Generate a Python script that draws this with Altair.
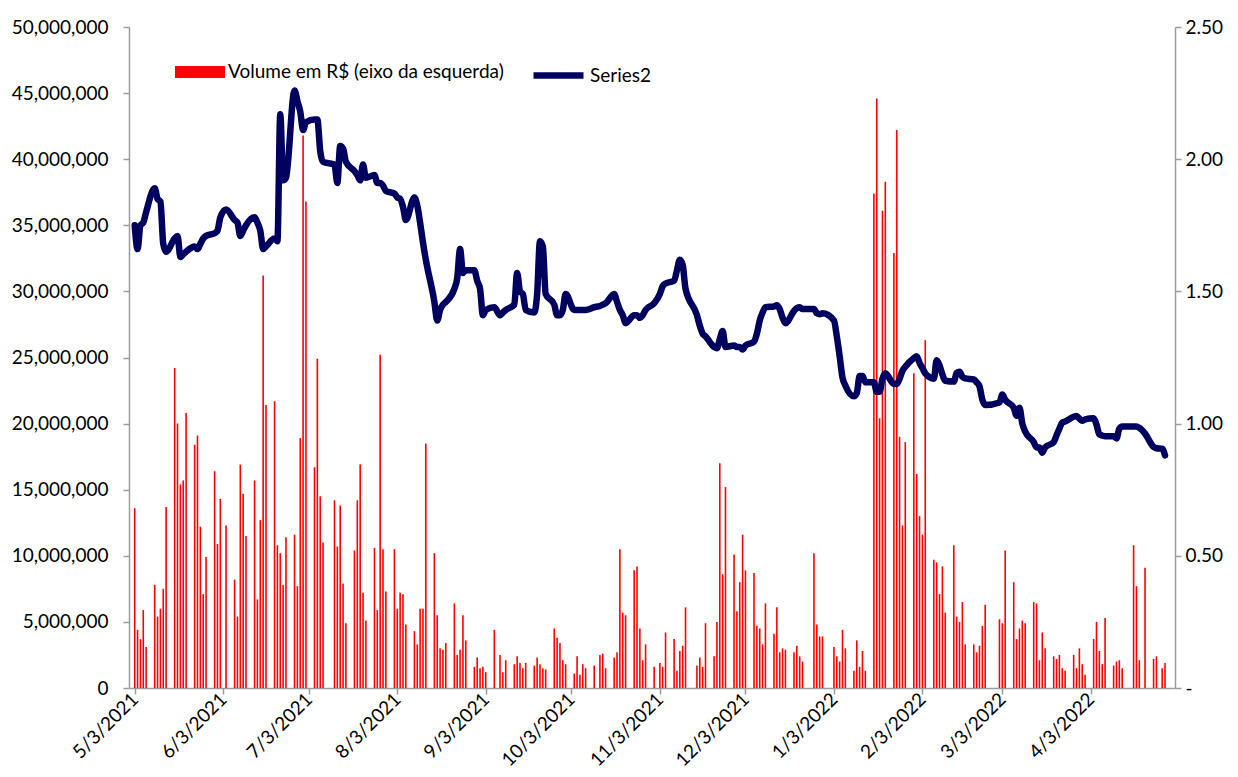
import altair as alt
import pandas as pd

# ---- data (volume in millions of R$, Series2 on right axis) ----
may21_days = [3,4,5,6,7,10,11,12,13,14,17,18,19,20,21,24,25,26,27,28,31]
may21_vol = [13.6,4.4,3.7,5.9,3.1,7.8,5.4,6.0,7.5,13.7,24.2,20.0,15.4,15.7,20.8,18.4,19.1,12.2,7.1,9.9,16.4]
may21_s2 = [1.75,1.66,1.75,1.76,1.80,1.89,1.85,1.84,1.68,1.65,1.70,1.71,1.63,1.64,1.65,1.67,1.66,1.68,1.70,1.71,1.72]

jun21_days = [1,2,4,7,8,9,10,11,14,15,16,17,18,21,22,23,24,25,28,29,30]
jun21_vol = [10.9,14.3,12.3,8.2,5.4,16.9,14.7,11.5,15.7,6.7,12.7,31.2,21.4,21.7,10.8,10.2,7.8,11.4,11.6,7.7,18.9]
jun21_s2 = [1.73,1.78,1.81,1.77,1.76,1.71,1.73,1.75,1.78,1.76,1.73,1.66,1.67,1.70,1.69,2.17,1.92,1.93,2.26,2.22,2.18]

jul21_days = [1,2,5,6,7,8,12,13,14,15,16,19,20,21,22,23,26,27,28,29,30]
jul21_vol = [41.8,36.8,16.7,24.9,14.5,11.0,14.2,10.7,13.8,7.9,4.9,10.4,14.2,16.9,7.2,5.1,10.6,5.9,25.2,10.5,7.3]
jul21_s2 = [2.11,2.14,2.15,2.15,2.03,1.99,1.98,1.91,2.05,2.04,1.99,1.955,1.94,1.92,1.98,1.93,1.94,1.91,1.91,1.90,1.88]

aug21_days = [2,3,4,5,6,9,10,11,12,13,16,17,18,19,20,23,24,25,26,27,30,31]
aug21_vol = [10.5,6.0,7.2,7.1,4.8,4.3,3.3,6.0,6.0,18.5,10.2,5.5,3.0,2.9,3.4,6.4,2.5,2.9,5.5,3.6,1.6,2.3]
aug21_s2 = [1.87,1.855,1.85,1.82,1.77,1.855,1.825,1.76,1.685,1.62,1.46,1.39,1.43,1.45,1.46,1.51,1.55,1.66,1.57,1.58,1.58,1.54]

sep21_days = [1,2,3,6,8,9,10,13,14,15,16,17,20,21,22,23,24,27,28,29,30]
sep21_vol = [1.5,1.6,1.2,4.4,2.5,1.2,2.1,1.8,2.4,1.9,1.5,1.9,1.7,2.3,1.8,1.5,1.4,4.5,3.8,3.4,2.1]
sep21_s2 = [1.51,1.41,1.43,1.44,1.41,1.42,1.43,1.45,1.57,1.50,1.49,1.43,1.42,1.49,1.69,1.67,1.49,1.45,1.41,1.41,1.43]

oct21_days = [1,4,5,6,7,8,11,13,14,15,18,19,20,21,22,25,26,27,28,29]
oct21_vol = [1.8,1.1,2.4,1.0,1.8,1.5,1.7,2.5,2.6,1.5,2.3,2.7,10.5,5.7,5.5,8.9,9.2,4.5,2.1,3.3]
oct21_s2 = [1.49,1.43,1.43,1.43,1.43,1.43,1.44,1.445,1.45,1.455,1.49,1.46,1.43,1.41,1.38,1.41,1.41,1.40,1.41,1.43]

nov21_days = [1,3,4,5,8,9,10,11,12,16,17,18,19,22,23,24,25,26,29,30]
nov21_vol = [1.6,1.9,1.6,4.2,3.7,1.3,2.8,3.2,6.1,1.7,2.3,1.6,4.9,2.4,5.0,17.0,8.6,15.2,10.1,5.8]
nov21_s2 = [1.455,1.49,1.52,1.53,1.54,1.58,1.62,1.60,1.51,1.41,1.37,1.34,1.33,1.29,1.285,1.32,1.35,1.29,1.295,1.29]

dec21_days = [1,2,3,6,7,8,9,10,13,14,15,16,17,20,21,22,23,27,28,29,30]
dec21_vol = [8.0,11.6,8.9,8.7,4.7,4.5,3.3,6.4,4.1,6.1,2.7,3.0,2.9,2.7,3.2,2.4,2.0,10.2,4.8,3.9,3.9]
dec21_s2 = [1.29,1.28,1.295,1.31,1.34,1.39,1.42,1.44,1.443,1.448,1.433,1.40,1.38,1.426,1.437,1.44,1.433,1.433,1.418,1.414,1.417]

jan22_days = [3,4,5,6,7,10,11,12,13,14,17,18,19,20,21,24,25,26,27,28,31]
jan22_vol = [3.1,2.4,2.0,4.4,3.0,1.3,3.6,1.6,2.8,1.3,37.4,44.6,20.4,36.1,38.3,32.9,42.2,19.0,12.3,18.6,23.8]
jan22_s2 = [1.39,1.33,1.255,1.174,1.144,1.103,1.115,1.18,1.18,1.156,1.156,1.12,1.12,1.17,1.19,1.15,1.15,1.17,1.20,1.215,1.248]

feb22_days = [1,2,3,4,7,8,9,10,11,14,15,16,17,18,21,22,23,24,25]
feb22_vol = [16.2,13.0,11.6,26.3,9.7,9.5,7.1,9.2,5.7,10.8,5.4,5.0,6.5,3.3,3.3,2.7,3.2,4.7,6.3]
feb22_s2 = [1.255,1.23,1.21,1.19,1.17,1.24,1.22,1.186,1.162,1.159,1.192,1.196,1.177,1.171,1.167,1.156,1.141,1.09,1.07]

mar22_days = [2,3,4,7,8,9,10,11,14,15,16,17,18,21,22,23,24,25,28,29,30,31]
mar22_vol = [5.2,4.9,10.4,8.0,3.7,4.5,5.1,4.9,6.5,6.4,2.1,4.2,3.0,2.4,2.2,2.5,1.5,1.3,2.5,1.5,3.0,1.8]
mar22_s2 = [1.08,1.11,1.09,1.06,1.03,1.06,1.00,0.97,0.93,0.91,0.91,0.89,0.91,0.93,0.956,0.981,1.004,1.008,1.026,1.029,1.019,1.011]

apr22_days = [1,4,5,6,7,8,11,12,13,14,18,19,20,22,25,26,28,29]
apr22_vol = [1.0,3.7,5.0,2.8,1.8,5.3,1.7,2.0,2.1,1.5,10.8,7.7,2.1,9.1,2.2,2.4,1.5,1.9]
apr22_s2 = [1.016,1.02,0.996,0.959,0.955,0.952,0.952,0.944,0.981,0.989,0.989,0.989,0.984,0.962,0.912,0.907,0.905,0.88]

months = [
    (2021, 5, may21_days, may21_vol, may21_s2),
    (2021, 6, jun21_days, jun21_vol, jun21_s2),
    (2021, 7, jul21_days, jul21_vol, jul21_s2),
    (2021, 8, aug21_days, aug21_vol, aug21_s2),
    (2021, 9, sep21_days, sep21_vol, sep21_s2),
    (2021, 10, oct21_days, oct21_vol, oct21_s2),
    (2021, 11, nov21_days, nov21_vol, nov21_s2),
    (2021, 12, dec21_days, dec21_vol, dec21_s2),
    (2022, 1, jan22_days, jan22_vol, jan22_s2),
    (2022, 2, feb22_days, feb22_vol, feb22_s2),
    (2022, 3, mar22_days, mar22_vol, mar22_s2),
    (2022, 4, apr22_days, apr22_vol, apr22_s2),
]

tick_months = [(2021, m) for m in range(5, 13)] + [(2022, m) for m in range(1, 5)]

bar_name = "Volume em R$ (eixo da esquerda)"
line_name = "Series2"

rows = []
for y, m, days, vols, s2 in months:
    for d, v, s in zip(days, vols, s2):
        rows.append({"date": f"{y}-{m:02d}-{d:02d}T00:00:00", "vol": v * 1e6, "s2": s,
                     "bar_series": bar_name, "line_series": line_name})
df = pd.DataFrame(rows)

FONT = "Lato"
AXIS_GRAY = "#9C9C9C"
NAVY = "#00005F"

x_scale = alt.Scale(domain=[alt.DateTime(year=2021, month=5, date=2, hours=18),
                            alt.DateTime(year=2022, month=4, date=30, hours=18)])
x_axis = alt.Axis(
    values=[alt.DateTime(year=y, month=m, date=3) for y, m in tick_months],
    labelExpr="timeFormat(datum.value, '%-m/%-d/%Y')",
    labelAngle=-45, labelAlign="right", labelBaseline="middle",
    labelPadding=2, tickSize=6, title=None, grid=False,
)

bars = alt.Chart(df).mark_bar(size=1.6, opacity=1).encode(
    x=alt.X("date:T", scale=x_scale, axis=x_axis),
    y=alt.Y("vol:Q", scale=alt.Scale(domain=[0, 50_000_000]),
            axis=alt.Axis(values=list(range(0, 50_000_001, 5_000_000)), format=",.0f",
                          title=None, grid=False, tickSize=6, labelPadding=15)),
    color=alt.Color("bar_series:N", scale=alt.Scale(domain=[bar_name], range=["#FF0000"]),
                    legend=alt.Legend(title=None, orient="none", legendX=61, legendY=35,
                                      symbolType="M-2.5,-0.6L2.5,-0.6L2.5,0.6L-2.5,0.6Z",
                                      symbolSize=400, symbolStrokeWidth=0,
                                      labelOffset=18, labelLimit=500, padding=0)),
)

line = alt.Chart(df).mark_line(strokeWidth=6.5, interpolate="monotone",
                               strokeCap="round", strokeJoin="round").encode(
    x=alt.X("date:T", scale=x_scale, axis=x_axis),
    y=alt.Y("s2:Q", scale=alt.Scale(domain=[0, 2.5]),
            axis=alt.Axis(orient="right", values=[0, 0.5, 1.0, 1.5, 2.0, 2.5],
                          labelExpr="datum.value == 0 ? '-' : format(datum.value, '.2f')",
                          title=None, grid=False, tickSize=6, labelPadding=4)),
    stroke=alt.Stroke("line_series:N", scale=alt.Scale(domain=[line_name], range=[NAVY]),
                      legend=alt.Legend(title=None, orient="none", legendX=416, legendY=35,
                                        symbolType="M-2.5,0L2.5,0", symbolSize=400,
                                        symbolStrokeWidth=6.5, labelOffset=18,
                                        labelLimit=500, padding=0)),
)

chart = alt.layer(bars, line).resolve_scale(y="independent").properties(
    width=1046, height=661,
    padding={"left": 121, "top": 19, "right": 55, "bottom": 81},
    autosize=alt.AutoSizeParams(type="none"),
    background="white",
).configure_view(stroke=None).configure_axis(
    domainColor=AXIS_GRAY, domainWidth=1.5, tickColor=AXIS_GRAY, tickWidth=1.5,
    labelFont=FONT, labelFontSize=19, labelColor="#000000",
).configure_legend(
    labelFont=FONT, labelFontSize=19, labelColor="#000000",
)

chart.save("out.html", embed_options={"renderer": "svg", "actions": False})
